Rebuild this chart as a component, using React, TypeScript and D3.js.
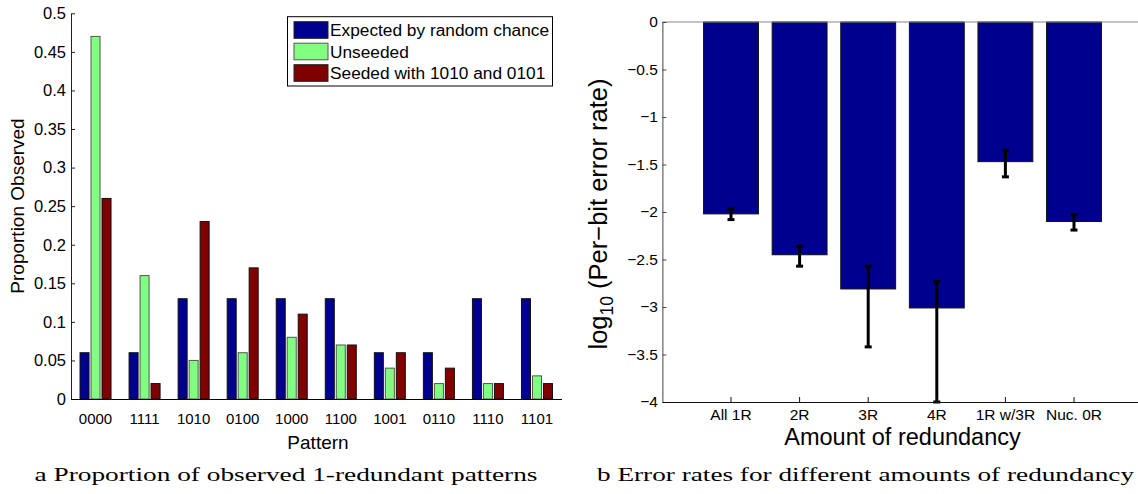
import React, { useRef, useEffect } from 'react';
import * as d3 from 'd3';

// left panel: proportion of 1-redundant patterns
const patterns = ['0000', '1111', '1010', '0100', '1000', '1100', '1001', '0110', '1110', '1101'];
const seriesNames = ['Expected by random chance', 'Unseeded', 'Seeded with 1010 and 0101'];
const expected = [0.06, 0.06, 0.13, 0.13, 0.13, 0.13, 0.06, 0.06, 0.13, 0.13];
const unseeded = [0.47, 0.16, 0.05, 0.06, 0.08, 0.07, 0.04, 0.02, 0.02, 0.03];
const seeded = [0.26, 0.02, 0.23, 0.17, 0.11, 0.07, 0.06, 0.04, 0.02, 0.02];
const leftTicks = [0, 0.05, 0.1, 0.15, 0.2, 0.25, 0.3, 0.35, 0.4, 0.45, 0.5];

// right panel: log10 error rates
const redundancy = ['All 1R', '2R', '3R', '4R', '1R w/3R', 'Nuc. 0R'];
const logError = [-2.02, -2.45, -2.81, -3.01, -1.47, -2.1];
const errTop = [-1.97, -2.36, -2.57, -2.73, -1.35, -2.03];
const errBottom = [-2.08, -2.57, -3.42, -4.0, -1.63, -2.19];
const rightTicks = [0, -0.5, -1, -1.5, -2, -2.5, -3, -3.5, -4];

const colors = ['#00008f', '#80ff80', '#800000'];
const sans = '"Liberation Sans", Arial, Helvetica, sans-serif';
const serif = '"Liberation Serif", "DejaVu Serif", serif';

const App = () => {
  const svgRef = useRef<SVGSVGElement>(null);

  useEffect(() => {
    const svg = d3.select(svgRef.current);
    svg.selectAll('*').remove();

    // ---------- left chart ----------
    const lx = d3.scaleBand().domain(patterns).range([71, 561.5]).padding(0);
    const ly = d3.scaleLinear().domain([0, 0.5]).range([399, 13.3]);
    const inner = d3.scaleBand().domain(seriesNames).range([-15.5, 15.5]).paddingInner(0.18);
    const allSeries = [expected, unseeded, seeded];

    const left = svg.append('g');
    allSeries.forEach((vals, si) => {
      left.append('g')
        .selectAll('rect')
        .data(vals)
        .join('rect')
        .attr('x', (d, i) => lx(patterns[i])! + lx.bandwidth() / 2 + inner(seriesNames[si])!)
        .attr('y', (d) => ly(d))
        .attr('width', inner.bandwidth())
        .attr('height', (d) => ly(0) - ly(d))
        .attr('fill', colors[si])
        .attr('stroke', si === 1 ? '#555' : '#111')
        .attr('stroke-width', 1);
    });

    const lyAxis = left.append('g')
      .attr('transform', 'translate(71,0)')
      .call(d3.axisLeft(ly).tickValues(leftTicks).tickSize(-4).tickSizeOuter(0).tickPadding(5)
        .tickFormat((d) => String(+(+d).toFixed(2))));
    lyAxis.selectAll('text').attr('font-family', sans).attr('font-size', 16.5).attr('fill', '#000');
    lyAxis.selectAll('line, path').attr('stroke', '#222');

    const lxAxis = left.append('g')
      .attr('transform', 'translate(0,399)')
      .call(d3.axisBottom(lx).tickSize(0).tickPadding(14));
    lxAxis.selectAll('text').attr('font-family', sans).attr('font-size', 15).attr('fill', '#000');
    lxAxis.select('path').attr('stroke', '#000');

    left.append('text')
      .attr('x', 318).attr('y', 449)
      .attr('text-anchor', 'middle')
      .attr('font-family', sans).attr('font-size', 19)
      .text('Pattern');

    left.append('text')
      .attr('transform', 'translate(24,206) rotate(-90)')
      .attr('text-anchor', 'middle')
      .attr('font-family', sans).attr('font-size', 19)
      .text('Proportion Observed');

    // legend
    const legend = left.append('g');
    legend.append('rect')
      .attr('x', 287.5).attr('y', 16.7).attr('width', 265).attr('height', 69.3)
      .attr('fill', '#fff').attr('stroke', '#000').attr('stroke-width', 1);
    seriesNames.forEach((name, i) => {
      const cy = 30 + i * 21.5;
      legend.append('rect')
        .attr('x', 294).attr('y', cy - 8.3).attr('width', 34).attr('height', 16.6)
        .attr('fill', colors[i]).attr('stroke', i === 1 ? '#555' : '#222');
      legend.append('text')
        .attr('x', 330).attr('y', cy + 6.2)
        .attr('font-family', sans).attr('font-size', 17.3)
        .text(name);
    });

    // ---------- right chart ----------
    const rx = d3.scaleBand().domain(redundancy).range([662.4, 1142.6]).paddingInner(0.2).paddingOuter(0.6);
    const ry = d3.scaleLinear().domain([-4, 0]).range([402, 22]);
    const right = svg.append('g');

    right.append('g')
      .selectAll('rect')
      .data(logError)
      .join('rect')
      .attr('x', (d, i) => rx(redundancy[i])!)
      .attr('y', ry(0))
      .attr('width', rx.bandwidth())
      .attr('height', (d) => ry(d) - ry(0))
      .attr('fill', colors[0])
      .attr('stroke', '#111')
      .attr('stroke-width', 1);

    // zero baseline
    right.append('line')
      .attr('x1', rx.range()[0]).attr('x2', rx.range()[1])
      .attr('y1', ry(0)).attr('y2', ry(0))
      .attr('stroke', '#888').attr('stroke-width', 1.2);

    // error bars
    const eb = right.append('g').attr('stroke', '#000').attr('stroke-width', 3);
    redundancy.forEach((r, i) => {
      const cx = rx(r)! + rx.bandwidth() / 2;
      eb.append('line').attr('x1', cx).attr('x2', cx).attr('y1', ry(errTop[i])).attr('y2', ry(errBottom[i]));
      eb.append('line').attr('x1', cx - 3.5).attr('x2', cx + 3.5).attr('y1', ry(errTop[i])).attr('y2', ry(errTop[i]));
      eb.append('line').attr('x1', cx - 3.5).attr('x2', cx + 3.5).attr('y1', ry(errBottom[i])).attr('y2', ry(errBottom[i]));
    });

    const ryAxis = right.append('g')
      .attr('transform', 'translate(662.4,0)')
      .call(d3.axisLeft(ry).tickValues(rightTicks).tickSize(-4).tickSizeOuter(0).tickPadding(4.5)
        .tickFormat(d3.format('~g')));
    ryAxis.selectAll('text').attr('font-family', sans).attr('font-size', 15.5).attr('fill', '#000');
    ryAxis.selectAll('line, path').attr('stroke', '#444');

    const rxAxis = right.append('g')
      .attr('transform', 'translate(0,402)')
      .call(d3.axisBottom(rx).tickSize(-5).tickSizeOuter(0).tickPadding(6.5));
    rxAxis.selectAll('text').attr('font-family', sans).attr('font-size', 15.5).attr('fill', '#000');
    rxAxis.selectAll('line, path').attr('stroke', '#111');

    right.append('text')
      .attr('x', 902.5).attr('y', 445)
      .attr('text-anchor', 'middle')
      .attr('font-family', sans).attr('font-size', 23.5)
      .text('Amount of redundancy');

    const yl = right.append('text')
      .attr('transform', 'translate(607,214) rotate(-90)')
      .attr('text-anchor', 'middle')
      .attr('font-family', sans).attr('font-size', 25.5);
    yl.append('tspan').text('log');
    yl.append('tspan').attr('font-size', 17.5).attr('dy', 6).text('10');
    yl.append('tspan').attr('dy', -6).text(' (Per\u2212bit error rate)');

    // captions
    svg.append('text')
      .attr('x', 34.5).attr('y', 481)
      .attr('font-family', serif).attr('font-size', 19)
      .attr('textLength', 503).attr('lengthAdjust', 'spacingAndGlyphs')
      .text('a Proportion of observed 1-redundant patterns');
    svg.append('text')
      .attr('x', 597).attr('y', 481)
      .attr('font-family', serif).attr('font-size', 19)
      .attr('textLength', 537).attr('lengthAdjust', 'spacingAndGlyphs')
      .text('b Error rates for different amounts of redundancy');
  }, []);

  return (
    <svg
      ref={svgRef}
      width={1138}
      height={494}
      style={{ position: 'absolute', left: 0, top: 0, background: '#fff', display: 'block' }}
    />
  );
};

export default App;
